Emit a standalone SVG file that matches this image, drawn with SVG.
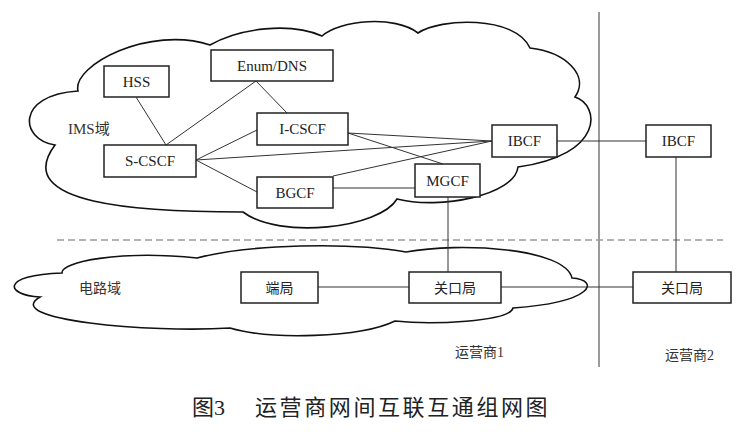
<svg xmlns="http://www.w3.org/2000/svg" width="746" height="437" viewBox="0 0 746 437">
<style>
.cloud{fill:none;stroke:#111;stroke-width:1.6}
.box{fill:#fff;stroke:#222;stroke-width:1.5}
.lbl{font-family:"Liberation Serif","Noto Sans CJK SC",serif;font-size:15px;fill:#222;text-anchor:middle}
.cn{font-family:"Liberation Serif","Noto Sans CJK SC",serif;font-size:14px;fill:#333}
.ln{stroke:#333;stroke-width:1;fill:none}
.sep{stroke:#9a9a9a;stroke-width:2;fill:none}
</style>
<rect width="746" height="437" fill="#fff"/>
<g id="separators">
<line class="sep" x1="599" y1="12" x2="599" y2="367"/>
<line x1="57" y1="240" x2="723" y2="240" stroke="#9a9a9a" stroke-width="1.5" stroke-dasharray="7,4"/>
</g>
<g id="ims-cloud">
<path class="cloud" d="M78,91 C72,65 150,25 210,45 C240,28 290,22 322,36 C340,20 395,15 418,33 C440,18 515,15 530,48 C565,52 590,75 575,97 C600,105 605,155 518,167 C515,195 440,210 397,199 C380,228 280,240 243,212 C140,212 10,205 55,145 C20,140 15,95 78,91 Z"/>
<text class="cn" x="68" y="134" style="font-size:15px">IMS域</text>
</g>
<g id="cs-cloud">
<path class="cloud" d="M62,273 C60,262 120,250 197,258 C250,244 350,242 406,252 C460,242 565,248 572,278 C600,280 595,302 513,308 C510,322 430,325 395,321 C360,338 270,340 230,328 C150,333 0,320 40,297 C5,295 0,275 62,273 Z"/>
<text class="cn" x="79" y="293">电路域</text>
</g>
<g id="connectors">
<line class="ln" x1="136" y1="97" x2="166" y2="145"/>
<line class="ln" x1="256" y1="81" x2="166" y2="145"/>
<line class="ln" x1="256" y1="81" x2="287" y2="113"/>
<line class="ln" x1="196" y1="160" x2="257" y2="130"/>
<line class="ln" x1="196" y1="160" x2="492" y2="141"/>
<line class="ln" x1="196" y1="160" x2="257" y2="192"/>
<line class="ln" x1="348" y1="133" x2="492" y2="141"/>
<line class="ln" x1="348" y1="133" x2="443" y2="164"/>
<line class="ln" x1="333" y1="176" x2="492" y2="141"/>
<line class="ln" x1="333" y1="188" x2="415" y2="188"/>
<line class="ln" x1="557" y1="141" x2="646" y2="141"/>
<line class="ln" x1="448" y1="197" x2="448" y2="272"/>
<line class="ln" x1="676" y1="157" x2="676" y2="272"/>
<line class="ln" x1="318" y1="287" x2="409" y2="287"/>
<line class="ln" x1="501" y1="287" x2="633" y2="287"/>
</g>
<g id="HSS"><rect class="box" x="104" y="66" width="65" height="31"/><text class="lbl" x="136.5" y="87">HSS</text></g>
<g id="EnumDNS"><rect class="box" x="211" y="50" width="122" height="31"/><text class="lbl" x="272" y="71">Enum/DNS</text></g>
<g id="I-CSCF"><rect class="box" x="257" y="113" width="91" height="32"/><text class="lbl" x="302.5" y="134">I-CSCF</text></g>
<g id="S-CSCF"><rect class="box" x="104" y="145" width="92" height="32"/><text class="lbl" x="150" y="166">S-CSCF</text></g>
<g id="BGCF"><rect class="box" x="257" y="177" width="76" height="31"/><text class="lbl" x="295" y="198">BGCF</text></g>
<g id="MGCF"><rect class="box" x="415" y="164" width="65" height="33"/><text class="lbl" x="447.5" y="186">MGCF</text></g>
<g id="IBCF1"><rect class="box" x="492" y="125" width="65" height="32"/><text class="lbl" x="524.5" y="146">IBCF</text></g>
<g id="IBCF2"><rect class="box" x="646" y="125" width="65" height="32"/><text class="lbl" x="678.5" y="146">IBCF</text></g>
<g id="duanju"><rect class="box" x="241" y="272" width="77" height="31"/><text class="lbl" x="279.5" y="293" style="font-size:14px">端局</text></g>
<g id="guankouju1"><rect class="box" x="409" y="272" width="92" height="31"/><text class="lbl" x="455" y="293" style="font-size:14px">关口局</text></g>
<g id="guankouju2"><rect class="box" x="633" y="272" width="98" height="31"/><text class="lbl" x="682" y="293" style="font-size:14px">关口局</text></g>
<g id="labels">
<text class="cn" x="455" y="357">运营商1</text>
<text class="cn" x="665" y="360">运营商2</text>
<text x="192" y="415" style="font-family:'Liberation Serif','Noto Sans CJK SC',serif;font-size:22px;fill:#222">图3</text>
<text x="255" y="415" style="font-family:'Liberation Serif','Noto Sans CJK SC',serif;font-size:22px;fill:#222;letter-spacing:2.6px">运营商网间互联互通组网图</text>
</g>
</svg>
